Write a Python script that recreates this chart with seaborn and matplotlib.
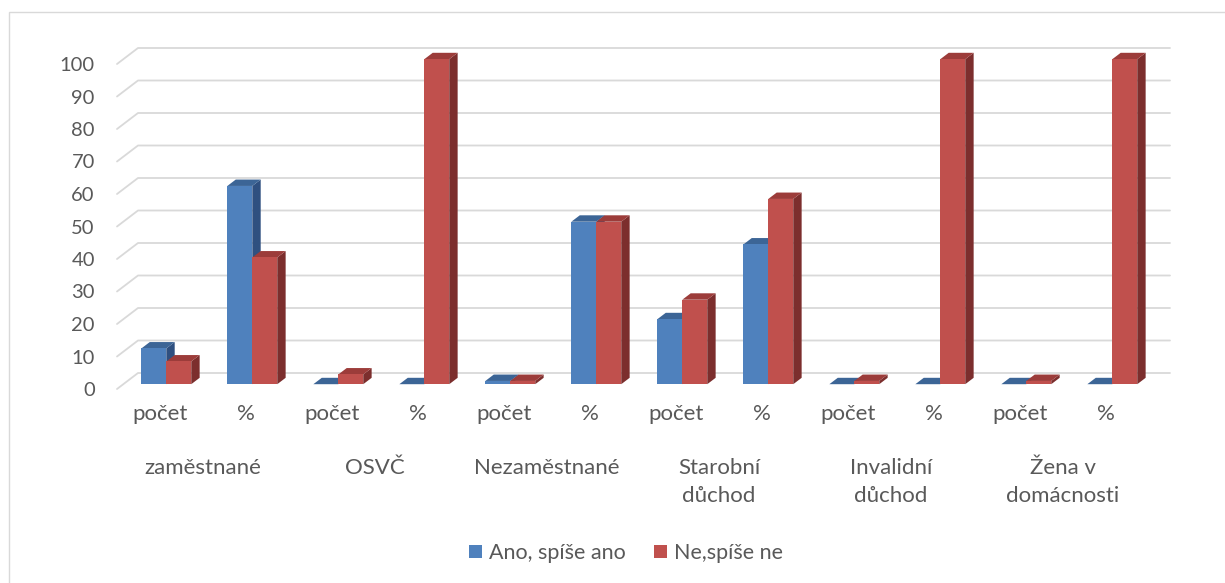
import matplotlib
matplotlib.use("Agg")
import matplotlib.pyplot as plt
import seaborn as sns
import pandas as pd
from matplotlib.patches import Polygon, Patch, Rectangle
from matplotlib.lines import Line2D
from matplotlib.transforms import IdentityTransform, ScaledTranslation, blended_transform_factory

groups = ["zaměstnané", "OSVČ", "Nezaměstnané", "Starobní\ndůchod", "Invalidní\ndůchod", "Žena v\ndomácnosti"]
measures = ["počet", "%"]
series = ["Ano, spíše ano", "Ne,spíše ne"]
ano = [11, 61, 0, 0, 1, 50, 20, 43, 0, 0, 0, 0]
ne = [7, 39, 3, 100, 1, 50, 26, 57, 1, 100, 1, 100]

cols = [f"{g}|{m}" for g in groups for m in measures]
df = pd.DataFrame({
    "sloupec": cols * 2,
    "odpoved": [series[0]] * len(cols) + [series[1]] * len(cols),
    "hodnota": ano + ne,
})

front_c = ["#4f81bd", "#c0504d"]
top_c = ["#3c6596", "#9c3c3a"]
side_c = ["#2f5080", "#7c2e2d"]
text_c = "#595959"
grid_c = "#d9d9d9"

sns.set_style("white")
plt.rcParams["font.family"] = ["Lato", "DejaVu Sans"]

W, H, DPI = 1225, 583, 100
fig = plt.figure(figsize=(W / DPI, H / DPI), dpi=DPI)
# axes = front edge of the floor (pixels measured from reference)
ax = fig.add_axes([117 / W, (H - 389) / H, 1032 / W, 325 / H])

sns.barplot(data=df, x="sloupec", y="hodnota", hue="odpoved", order=cols,
            palette=front_c, width=0.58, gap=0, saturation=1, legend=False,
            linewidth=0, ax=ax)
ax.set_xlim(-0.5, len(cols) - 0.5)
ax.set_ylim(0, 100)
ax.set_yticks(range(0, 101, 10))
ax.set_xlabel("")
ax.set_ylabel("")
for s in ax.spines.values():
    s.set_visible(False)
ax.tick_params(axis="both", length=0, colors=text_c)
ax.tick_params(axis="y", pad=16, labelsize=14.5)
ax.tick_params(axis="x", pad=11, labelsize=16)
ax.set_xticks(range(len(cols)))
ax.set_xticklabels(measures * len(groups))

# pseudo-3D depth (display pixels, y up)
depth = (21, 16)
fx, fy = 0.3 * depth[0], 0.3 * depth[1]
bx, by = 0.4 * depth[0], 0.4 * depth[1]

# gridlines on back wall with diagonal on the left side wall
xl0 = ax.transData.transform((-0.5, 0))[0]
xr0 = ax.transData.transform((len(cols) - 0.5, 0))[0]
for v in range(0, 101, 10):
    y = ax.transData.transform((0, v))[1]
    ln = Line2D([xl0, xl0 + depth[0], xr0 + depth[0]], [y, y + depth[1], y + depth[1]],
                transform=IdentityTransform(), color=grid_c, lw=1.3, zorder=0.5)
    ln.set_clip_on(False)
    ax.add_artist(ln)

shift = ScaledTranslation(fx / DPI, fy / DPI, fig.dpi_scale_trans)
for k, cont in enumerate(ax.containers):
    for bar in cont:
        x0, w, h = bar.get_x(), bar.get_width(), bar.get_height()
        xl, yb = ax.transData.transform((x0, 0))
        xr, yt = ax.transData.transform((x0 + w, h))
        xl, xr, yb, yt = xl + fx, xr + fx, yb + fy, yt + fy
        bar.set_transform(ax.transData + shift)
        bar.set_clip_on(False)
        bar.set_zorder(3)
        side = Polygon([(xr, yb), (xr, yt), (xr + bx, yt + by), (xr + bx, yb + by)],
                       closed=True, transform=IdentityTransform(), fc=side_c[k], ec="none", zorder=2.5)
        top = Polygon([(xl, yt), (xr, yt), (xr + bx, yt + by), (xl + bx, yt + by)],
                      closed=True, transform=IdentityTransform(), fc=top_c[k], ec="none", zorder=2.5)
        for p in (side, top):
            p.set_clip_on(False)
            ax.add_artist(p)

# group labels
tr = blended_transform_factory(ax.transData, ax.transAxes)
for i, g in enumerate(groups):
    ax.text(2 * i + 0.5, -0.212, g, transform=tr, ha="center", va="top",
            fontsize=16, color=text_c, linespacing=1.5)

handles = [Patch(facecolor=c, edgecolor="none") for c in front_c]
fig.legend(handles, series, loc="center", bbox_to_anchor=(626 / W, 1 - 553 / H), ncol=2,
           frameon=False, handlelength=0.6, handleheight=0.6, handletextpad=0.3,
           columnspacing=1.35, fontsize=15.5, labelcolor=text_c)

fig.add_artist(Rectangle((9 / W, -10 / H), 1230 / W, (H - 12 + 10) / H, transform=fig.transFigure,
                         fill=False, ec=grid_c, lw=1))

fig.savefig("out.png", dpi=DPI)
